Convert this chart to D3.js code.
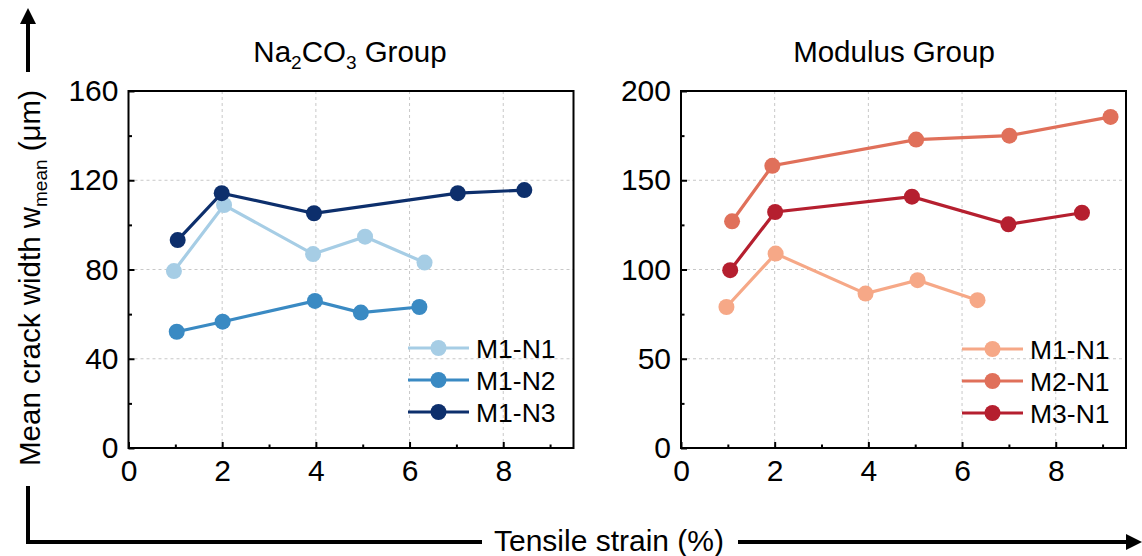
<!doctype html>
<html>
<head>
<script src="https://d3js.org/d3.v7.min.js"></script>
<style>
  body { margin: 0; background: #fff; }
  text { font-family: "Liberation Sans", Arial, sans-serif; }
</style>
</head>
<body>
<div id="chart"></div>
<script>
// ---- data ----
var naNames = ["M1-N1", "M1-N2", "M1-N3"];
var naColors = ["#a6cde5", "#3a8ac3", "#0d2f6c"];
var naX = [
  [0.97, 2.04, 3.94, 5.05, 6.32],
  [1.03, 2.01, 3.98, 4.96, 6.21],
  [1.05, 1.99, 3.96, 7.03, 8.45]
];
var naY = [
  [79.3, 108.9, 86.9, 94.7, 83.1],
  [52.1, 56.6, 65.9, 60.7, 63.2],
  [93.2, 114.2, 105.2, 114.2, 115.6]
];

var modNames = ["M1-N1", "M2-N1", "M3-N1"];
var modColors = ["#f6a887", "#e0705a", "#b51f2f"];
var modX = [
  [0.97, 2.02, 3.94, 5.05, 6.33],
  [1.09, 1.95, 5.02, 7.01, 9.17],
  [1.05, 2.01, 4.93, 6.99, 8.56]
];
var modY = [
  [79.0, 108.9, 86.5, 94.0, 82.8],
  [127.0, 158.1, 172.8, 175.0, 185.5],
  [99.6, 132.2, 140.8, 125.3, 131.8]
];

var xTicks = [0, 2, 4, 6, 8];
var xMinor = [1, 3, 5, 7, 9];
var naYTicks = [0, 40, 80, 120, 160];
var naYMinor = [20, 60, 100, 140];
var modYTicks = [0, 50, 100, 150, 200];
var modYMinor = [25, 75, 125, 175];

var svg = d3.select("#chart").append("svg")
  .attr("width", 1142).attr("height", 556);

function drawPanel(opt) {
  var x = d3.scaleLinear().domain([0, 9.5]).range([opt.left, opt.right]);
  var y = d3.scaleLinear().domain(opt.yDomain).range([448, 91]);
  var g = svg.append("g");

  // grid
  g.append("g").selectAll("line").data(xTicks.slice(1)).join("line")
    .attr("x1", d => x(d)).attr("x2", d => x(d))
    .attr("y1", 91).attr("y2", 448)
    .attr("stroke", "#c8c8c8").attr("stroke-width", 1).attr("stroke-dasharray", "3,3");
  g.append("g").selectAll("line").data(opt.yTicks.slice(1)).join("line")
    .attr("x1", opt.left).attr("x2", opt.right)
    .attr("y1", d => y(d)).attr("y2", d => y(d))
    .attr("stroke", "#c8c8c8").attr("stroke-width", 1).attr("stroke-dasharray", "3,3");

  // axes (ticks inward)
  g.append("g").attr("transform", "translate(0,448)")
    .call(d3.axisBottom(x).tickValues(xTicks).tickSizeInner(-6).tickSizeOuter(0).tickPadding(12));
  g.append("g").attr("transform", "translate(0,448)")
    .call(d3.axisBottom(x).tickValues(xMinor).tickSizeInner(-3.5).tickSizeOuter(0).tickFormat(""));
  g.append("g").attr("transform", "translate(" + opt.left + ",0)")
    .call(d3.axisLeft(y).tickValues(opt.yTicks).tickSizeInner(-6).tickSizeOuter(0).tickPadding(10));
  g.append("g").attr("transform", "translate(" + opt.left + ",0)")
    .call(d3.axisLeft(y).tickValues(opt.yMinor).tickSizeInner(-3.5).tickSizeOuter(0).tickFormat(""));
  g.selectAll(".domain").remove();
  g.selectAll(".tick line").attr("stroke", "#000").attr("stroke-width", 2);
  g.selectAll(".tick text").attr("font-size", 30).attr("fill", "#000")
    .style("font-family", "'Liberation Sans', Arial, sans-serif");

  // frame
  g.append("rect").attr("x", opt.left).attr("y", 91)
    .attr("width", opt.right - opt.left).attr("height", 448 - 91)
    .attr("fill", "none").attr("stroke", "#000").attr("stroke-width", 2);

  // series
  var line = d3.line().x(d => x(d[0])).y(d => y(d[1]));
  opt.names.forEach(function (name, i) {
    var pts = opt.xs[i].map((v, j) => [v, opt.ys[i][j]]);
    g.append("path").datum(pts).attr("d", line)
      .attr("fill", "none").attr("stroke", opt.colors[i]).attr("stroke-width", 3.2);
    g.append("g").selectAll("circle").data(pts).join("circle")
      .attr("cx", d => x(d[0])).attr("cy", d => y(d[1])).attr("r", 8)
      .attr("fill", opt.colors[i]);
  });

  // legend
  var lg = g.append("g");
  opt.names.forEach(function (name, i) {
    var ly = opt.legendY + i * 32;
    lg.append("line").attr("x1", opt.legendX).attr("x2", opt.legendX + 61)
      .attr("y1", ly).attr("y2", ly)
      .attr("stroke", opt.colors[i]).attr("stroke-width", 3.2);
    lg.append("circle").attr("cx", opt.legendX + 30.5).attr("cy", ly).attr("r", 8)
      .attr("fill", opt.colors[i]);
    lg.append("text").attr("x", opt.legendX + 68).attr("y", ly + 9.5)
      .attr("font-size", 26.5).text(name);
  });

  // title
  var t = g.append("text").attr("x", opt.titleX).attr("y", 62)
    .attr("text-anchor", "middle").attr("font-size", 29.5);
  opt.title(t);
}

drawPanel({
  left: 128.5, right: 573.5, yDomain: [0, 160],
  yTicks: naYTicks, yMinor: naYMinor,
  names: naNames, colors: naColors, xs: naX, ys: naY,
  legendX: 408, legendY: 348, titleX: 350,
  title: function (t) {
    t.append("tspan").text("Na");
    t.append("tspan").attr("font-size", 19).attr("dy", 7).text("2");
    t.append("tspan").attr("dy", -7).text("CO");
    t.append("tspan").attr("font-size", 19).attr("dy", 7).text("3");
    t.append("tspan").attr("dy", -7).text(" Group");
  }
});

drawPanel({
  left: 681, right: 1126, yDomain: [0, 200],
  yTicks: modYTicks, yMinor: modYMinor,
  names: modNames, colors: modColors, xs: modX, ys: modY,
  legendX: 962, legendY: 349, titleX: 894,
  title: function (t) { t.text("Modulus Group"); }
});

// shared y label with arrow
var yl = svg.append("text")
  .attr("transform", "translate(40,278) rotate(-90)")
  .attr("text-anchor", "middle").attr("font-size", 29.5);
yl.append("tspan").text("Mean crack width w");
yl.append("tspan").attr("font-size", 19).attr("dy", 7).text("mean");
yl.append("tspan").attr("dy", -7).text(" (\u03bcm)");

svg.append("defs").append("marker")
  .attr("id", "arr").attr("viewBox", "0 0 10 10").attr("refX", 0).attr("refY", 5)
  .attr("markerWidth", 4).attr("markerHeight", 4).attr("orient", "auto")
  .append("path").attr("d", "M0,0L10,5L0,10Z").attr("fill", "#000");

svg.append("line").attr("x1", 28).attr("x2", 28).attr("y1", 72).attr("y2", 24)
  .attr("stroke", "#000").attr("stroke-width", 4).attr("marker-end", "url(#arr)");

// shared x label with L-shaped connector and arrow
svg.append("path").attr("d", "M28,486V542H482")
  .attr("fill", "none").attr("stroke", "#000").attr("stroke-width", 4);
svg.append("text").attr("x", 609).attr("y", 551).attr("text-anchor", "middle")
  .attr("font-size", 30).text("Tensile strain (%)");
svg.append("line").attr("x1", 738).attr("x2", 1126).attr("y1", 542).attr("y2", 542)
  .attr("stroke", "#000").attr("stroke-width", 4).attr("marker-end", "url(#arr)");
</script>
</body>
</html>
